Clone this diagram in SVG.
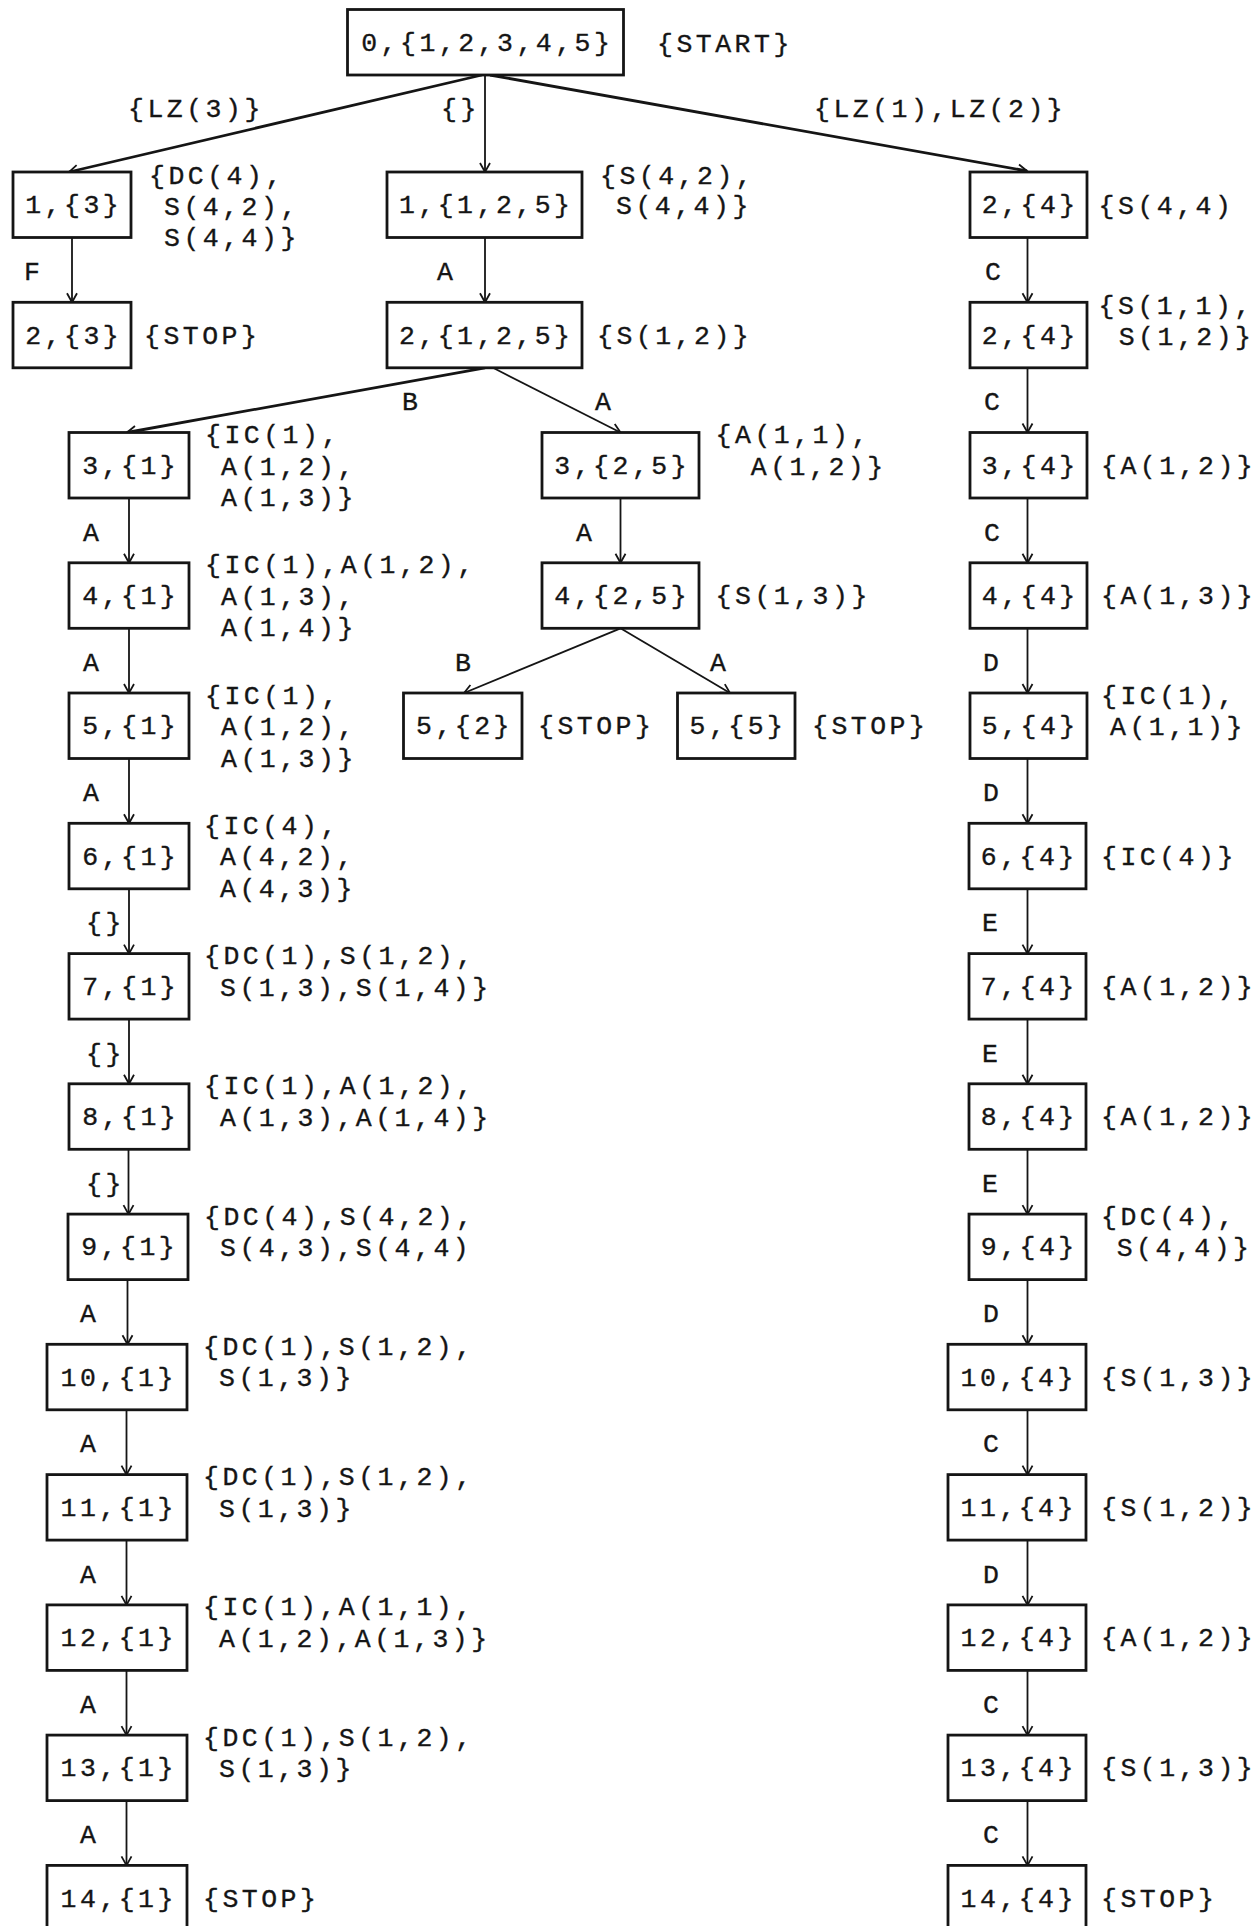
<svg xmlns="http://www.w3.org/2000/svg" width="1257" height="1926" viewBox="0 0 1257 1926">
<style>
.box{fill:#fff;stroke:#151515;stroke-width:2.8}
.t{font-family:"Liberation Mono","DejaVu Sans Mono",monospace;font-size:26.5px;letter-spacing:3.5px;fill:#151515;stroke:#151515;stroke-width:0.35}
.c{text-anchor:middle}
.e{fill:none;stroke:#151515;stroke-width:1.8;marker-end:url(#ah)}
.th{stroke-width:2.8}
</style>
<defs>
<marker id="ah" markerUnits="userSpaceOnUse" markerWidth="20" markerHeight="20" refX="10" refY="6" viewBox="0 0 20 12" orient="auto">
<path d="M1,1 L10,6 L1,11" fill="none" stroke="#151515" stroke-width="1.8"/>
</marker>
</defs>
<rect width="1257" height="1926" fill="#fff"/>

<g id="connectors">
<line class="e th" x1="482" y1="75" x2="69" y2="172"/>
<line class="e" x1="485" y1="75" x2="485" y2="172"/>
<line class="e th" x1="490" y1="75" x2="1027" y2="171"/>
<line class="e" x1="72" y1="237.5" x2="72" y2="302.3"/>
<line class="e" x1="485" y1="237.5" x2="485" y2="302.3"/>
<line class="e" x1="1027.5" y1="237.5" x2="1027.5" y2="302.3"/>
<line class="e th" x1="485" y1="367.8" x2="127" y2="432.5"/>
<line class="e" x1="493" y1="367.8" x2="620.5" y2="432.5"/>
<line class="e" x1="1027.5" y1="367.8" x2="1027.5" y2="432.5"/>
<line class="e" x1="129" y1="498" x2="129" y2="562.8"/>
<line class="e" x1="620.5" y1="498" x2="620.5" y2="562.8"/>
<line class="e" x1="1027.5" y1="498" x2="1027.5" y2="562.8"/>
<line class="e" x1="129" y1="628.3" x2="129" y2="693"/>
<line class="e" x1="620.5" y1="628.3" x2="464" y2="693"/>
<line class="e" x1="620.5" y1="628.3" x2="730" y2="693"/>
<line class="e" x1="1027.5" y1="628.3" x2="1027.5" y2="693"/>
<line class="e" x1="129" y1="758.5" x2="129" y2="823.3"/>
<line class="e" x1="1027.5" y1="758.5" x2="1027.5" y2="823.3"/>
<line class="e" x1="129" y1="888.8" x2="129" y2="953.6"/>
<line class="e" x1="1027.5" y1="888.8" x2="1027.5" y2="953.6"/>
<line class="e" x1="129" y1="1019.1" x2="129" y2="1083.8"/>
<line class="e" x1="1027.5" y1="1019.1" x2="1027.5" y2="1083.8"/>
<line class="e" x1="128.5" y1="1149.3" x2="128.5" y2="1214.1"/>
<line class="e" x1="1027.5" y1="1149.3" x2="1027.5" y2="1214.1"/>
<line class="e" x1="127.5" y1="1279.6" x2="127.5" y2="1344.3"/>
<line class="e" x1="1027.5" y1="1279.6" x2="1027.5" y2="1344.3"/>
<line class="e" x1="126.5" y1="1409.8" x2="126.5" y2="1474.6"/>
<line class="e" x1="1027.5" y1="1409.8" x2="1027.5" y2="1474.6"/>
<line class="e" x1="126.5" y1="1540.1" x2="126.5" y2="1604.9"/>
<line class="e" x1="1027.5" y1="1540.1" x2="1027.5" y2="1604.9"/>
<line class="e" x1="126.5" y1="1670.4" x2="126.5" y2="1735.1"/>
<line class="e" x1="1027.5" y1="1670.4" x2="1027.5" y2="1735.1"/>
<line class="e" x1="126.5" y1="1800.6" x2="126.5" y2="1865.4"/>
<line class="e" x1="1027.5" y1="1800.6" x2="1027.5" y2="1865.4"/>
</g>

<g id="edge-labels">
<text class="t" x="128" y="116.5">{LZ(3)}</text>
<text class="t" x="441" y="116.5">{}</text>
<text class="t" x="814" y="116.5">{LZ(1),LZ(2)}</text>
<text class="t" x="24" y="279.5">F</text>
<text class="t" x="437" y="279.5">A</text>
<text class="t" x="985" y="279.5">C</text>
<text class="t" x="402" y="409.5">B</text>
<text class="t" x="595" y="409.5">A</text>
<text class="t" x="984" y="409.5">C</text>
<text class="t" x="83" y="540.5">A</text>
<text class="t" x="576" y="540.5">A</text>
<text class="t" x="984" y="540.5">C</text>
<text class="t" x="83" y="670.5">A</text>
<text class="t" x="455" y="670.5">B</text>
<text class="t" x="710" y="670.5">A</text>
<text class="t" x="983" y="670.5">D</text>
<text class="t" x="83" y="800.5">A</text>
<text class="t" x="983" y="800.5">D</text>
<text class="t" x="86" y="930.5">{}</text>
<text class="t" x="982" y="930.5">E</text>
<text class="t" x="86" y="1061.5">{}</text>
<text class="t" x="982" y="1061.5">E</text>
<text class="t" x="86" y="1191.5">{}</text>
<text class="t" x="982" y="1191.5">E</text>
<text class="t" x="80" y="1321.5">A</text>
<text class="t" x="983" y="1321.5">D</text>
<text class="t" x="80" y="1451.5">A</text>
<text class="t" x="983" y="1451.5">C</text>
<text class="t" x="80" y="1582.5">A</text>
<text class="t" x="983" y="1582.5">D</text>
<text class="t" x="80" y="1712.5">A</text>
<text class="t" x="983" y="1712.5">C</text>
<text class="t" x="80" y="1842.5">A</text>
<text class="t" x="983" y="1842.5">C</text>
</g>

<g id="n0"><rect class="box" x="347.5" y="9.5" width="276" height="65.5"/><text class="t c" x="487.3" y="51">0,{1,2,3,4,5}</text><text class="t" x="657" y="51.5">{START}</text></g>

<g id="n1-3"><rect class="box" x="13" y="172" width="118" height="65.5"/><text class="t c" x="73.7" y="213.3">1,{3}</text>
<text class="t" x="149" y="183.5">{DC(4),</text><text class="t" x="164" y="214.5">S(4,2),</text><text class="t" x="164" y="245.5">S(4,4)}</text></g>
<g id="n2-3"><rect class="box" x="13" y="302.3" width="118" height="65.5"/><text class="t c" x="73.7" y="343.5">2,{3}</text><text class="t" x="144" y="343.5">{STOP}</text></g>

<g id="n1-125"><rect class="box" x="387" y="172" width="195" height="65.5"/><text class="t c" x="486.2" y="213.3">1,{1,2,5}</text>
<text class="t" x="600" y="183.5">{S(4,2),</text><text class="t" x="616" y="213.5">S(4,4)}</text></g>
<g id="n2-125"><rect class="box" x="387" y="302.3" width="195" height="65.5"/><text class="t c" x="486.2" y="343.5">2,{1,2,5}</text><text class="t" x="597" y="343.5">{S(1,2)}</text></g>

<g id="n3-25"><rect class="box" x="542" y="432.5" width="157" height="65.5"/><text class="t c" x="622.2" y="473.8">3,{2,5}</text>
<text class="t" x="715.6" y="442.5">{A(1,1),</text><text class="t" x="750.8" y="474.5">A(1,2)}</text></g>
<g id="n4-25"><rect class="box" x="542" y="562.8" width="157" height="65.5"/><text class="t c" x="622.2" y="604.1">4,{2,5}</text><text class="t" x="715.6" y="604.1">{S(1,3)}</text></g>
<g id="n5-2"><rect class="box" x="403.5" y="693" width="118.5" height="65.5"/><text class="t c" x="464.5" y="734.3">5,{2}</text><text class="t" x="538" y="734.3">{STOP}</text></g>
<g id="n5-5"><rect class="box" x="677.5" y="693" width="117.5" height="65.5"/><text class="t c" x="738" y="734.3">5,{5}</text><text class="t" x="812" y="734.3">{STOP}</text></g>

<g id="n3-1"><rect class="box" x="69" y="432.5" width="120" height="65.5"/><text class="t c" x="130.7" y="473.8">3,{1}</text>
<text class="t" x="205" y="443">{IC(1),</text><text class="t" x="221" y="474.5">A(1,2),</text><text class="t" x="221" y="506">A(1,3)}</text></g>
<g id="n4-1"><rect class="box" x="69" y="562.8" width="120" height="65.5"/><text class="t c" x="130.7" y="604.1">4,{1}</text>
<text class="t" x="205" y="573.3">{IC(1),A(1,2),</text><text class="t" x="221" y="604.8">A(1,3),</text><text class="t" x="221" y="636.3">A(1,4)}</text></g>
<g id="n5-1"><rect class="box" x="69" y="693" width="120" height="65.5"/><text class="t c" x="130.7" y="734.3">5,{1}</text>
<text class="t" x="205" y="703.5">{IC(1),</text><text class="t" x="221" y="735">A(1,2),</text><text class="t" x="221" y="766.5">A(1,3)}</text></g>
<g id="n6-1"><rect class="box" x="69" y="823.3" width="120" height="65.5"/><text class="t c" x="130.7" y="864.5">6,{1}</text>
<text class="t" x="204" y="833.8">{IC(4),</text><text class="t" x="220" y="865.3">A(4,2),</text><text class="t" x="220" y="896.8">A(4,3)}</text></g>
<g id="n7-1"><rect class="box" x="69" y="953.6" width="120" height="65.5"/><text class="t c" x="130.7" y="994.9">7,{1}</text>
<text class="t" x="204" y="964.1">{DC(1),S(1,2),</text><text class="t" x="220" y="995.6">S(1,3),S(1,4)}</text></g>
<g id="n8-1"><rect class="box" x="69" y="1083.8" width="120" height="65.5"/><text class="t c" x="130.7" y="1125.1">8,{1}</text>
<text class="t" x="204" y="1094.3">{IC(1),A(1,2),</text><text class="t" x="220" y="1125.8">A(1,3),A(1,4)}</text></g>
<g id="n9-1"><rect class="box" x="68" y="1214.1" width="120" height="65.5"/><text class="t c" x="129.7" y="1255.4">9,{1}</text>
<text class="t" x="204" y="1224.6">{DC(4),S(4,2),</text><text class="t" x="220" y="1256.1">S(4,3),S(4,4)</text></g>
<g id="n10-1"><rect class="box" x="47" y="1344.3" width="140" height="65.5"/><text class="t c" x="118.7" y="1385.5">10,{1}</text>
<text class="t" x="203" y="1354.8">{DC(1),S(1,2),</text><text class="t" x="219" y="1386.3">S(1,3)}</text></g>
<g id="n11-1"><rect class="box" x="47" y="1474.6" width="140" height="65.5"/><text class="t c" x="118.7" y="1515.9">11,{1}</text>
<text class="t" x="203" y="1485.1">{DC(1),S(1,2),</text><text class="t" x="219" y="1516.6">S(1,3)}</text></g>
<g id="n12-1"><rect class="box" x="47" y="1604.9" width="140" height="65.5"/><text class="t c" x="118.7" y="1646.2">12,{1}</text>
<text class="t" x="203" y="1615.4">{IC(1),A(1,1),</text><text class="t" x="219" y="1646.9">A(1,2),A(1,3)}</text></g>
<g id="n13-1"><rect class="box" x="47" y="1735.1" width="140" height="65.5"/><text class="t c" x="118.7" y="1776.4">13,{1}</text>
<text class="t" x="203" y="1745.6">{DC(1),S(1,2),</text><text class="t" x="219" y="1777.1">S(1,3)}</text></g>
<g id="n14-1"><rect class="box" x="47" y="1865.4" width="140" height="65.5"/><text class="t c" x="118.7" y="1906.7">14,{1}</text><text class="t" x="203" y="1906.7">{STOP}</text></g>

<g id="n2-4a"><rect class="box" x="970" y="172" width="117" height="65.5"/><text class="t c" x="1030.2" y="213.3">2,{4}</text><text class="t" x="1098.6" y="213.5">{S(4,4)</text></g>
<g id="n2-4b"><rect class="box" x="970" y="302.3" width="117" height="65.5"/><text class="t c" x="1030.2" y="343.5">2,{4}</text>
<text class="t" x="1098.6" y="313.5">{S(1,1),</text><text class="t" x="1118.7" y="344.5">S(1,2)}</text></g>
<g id="n3-4"><rect class="box" x="970" y="432.5" width="117" height="65.5"/><text class="t c" x="1030.2" y="473.8">3,{4}</text><text class="t" x="1101" y="473.8">{A(1,2)}</text></g>
<g id="n4-4"><rect class="box" x="970" y="562.8" width="117" height="65.5"/><text class="t c" x="1030.2" y="604.1">4,{4}</text><text class="t" x="1101" y="604.1">{A(1,3)}</text></g>
<g id="n5-4"><rect class="box" x="970" y="693" width="117" height="65.5"/><text class="t c" x="1030.2" y="734.3">5,{4}</text>
<text class="t" x="1101" y="703.5">{IC(1),</text><text class="t" x="1110" y="734.5">A(1,1)}</text></g>
<g id="n6-4"><rect class="box" x="969" y="823.3" width="117" height="65.5"/><text class="t c" x="1029.2" y="864.5">6,{4}</text><text class="t" x="1101" y="864.5">{IC(4)}</text></g>
<g id="n7-4"><rect class="box" x="969" y="953.6" width="117" height="65.5"/><text class="t c" x="1029.2" y="994.9">7,{4}</text><text class="t" x="1101" y="994.9">{A(1,2)}</text></g>
<g id="n8-4"><rect class="box" x="969" y="1083.8" width="117" height="65.5"/><text class="t c" x="1029.2" y="1125.1">8,{4}</text><text class="t" x="1101" y="1125.1">{A(1,2)}</text></g>
<g id="n9-4"><rect class="box" x="969" y="1214.1" width="117" height="65.5"/><text class="t c" x="1029.2" y="1255.4">9,{4}</text>
<text class="t" x="1101" y="1224.5">{DC(4),</text><text class="t" x="1116.7" y="1255.5">S(4,4)}</text></g>
<g id="n10-4"><rect class="box" x="948" y="1344.3" width="138" height="65.5"/><text class="t c" x="1018.7" y="1385.5">10,{4}</text><text class="t" x="1101" y="1385.5">{S(1,3)}</text></g>
<g id="n11-4"><rect class="box" x="948" y="1474.6" width="138" height="65.5"/><text class="t c" x="1018.7" y="1515.9">11,{4}</text><text class="t" x="1101" y="1515.9">{S(1,2)}</text></g>
<g id="n12-4"><rect class="box" x="948" y="1604.9" width="138" height="65.5"/><text class="t c" x="1018.7" y="1646.2">12,{4}</text><text class="t" x="1101" y="1646.2">{A(1,2)}</text></g>
<g id="n13-4"><rect class="box" x="948" y="1735.1" width="138" height="65.5"/><text class="t c" x="1018.7" y="1776.4">13,{4}</text><text class="t" x="1101" y="1776.4">{S(1,3)}</text></g>
<g id="n14-4"><rect class="box" x="948" y="1865.4" width="138" height="65.5"/><text class="t c" x="1018.7" y="1906.7">14,{4}</text><text class="t" x="1101" y="1906.7">{STOP}</text></g>
</svg>
